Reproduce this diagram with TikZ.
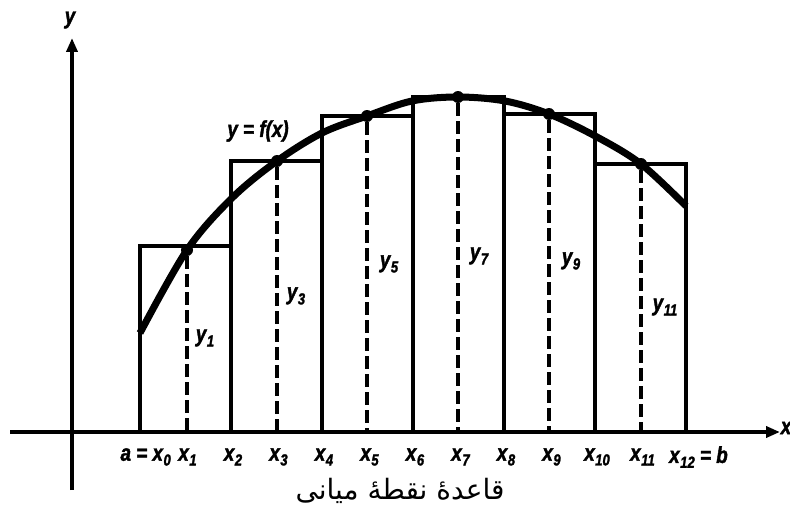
\documentclass[tikz,border=0pt]{standalone}
\usepackage{fontspec}
\setmainfont{Liberation Sans}
\newfontfamily\lblfont[FakeStretch=0.82, FakeBold=1.6]{Liberation Sans Bold Italic}
\newfontfamily\arabicfont[Script=Arabic]{DejaVu Sans}
\TeXXeTstate=1
\usetikzlibrary{arrows.meta}
\newcommand\lsub[2]{#1\kern0.5pt\raisebox{-0.4ex}{\fontsize{16}{16}\selectfont #2}}
\begin{document}
\begin{tikzpicture}[x=1pt,y=-1pt,
  axis/.style={line width=4.2pt},
  rectline/.style={line width=3.6pt},
  fcurve/.style={line width=7pt, line join=round},
  dashline/.style={line width=3.4pt, dash pattern=on 13pt off 5pt},
  dot/.style={circle, fill, inner sep=0pt, minimum size=12pt},
  lbl/.style={font=\lblfont\fontsize{23}{23}\selectfont, inner sep=0pt}]
\useasboundingbox (0,0) rectangle (790,519);
% axes
\coordinate (yb) at (72,490);
\coordinate (yt) at (72,38);
\coordinate (xl) at (10,432);
\coordinate (xr) at (780,432);
\draw[axis,-{Triangle[length=14pt,width=11pt]}] (yb) -- (yt);
\draw[axis,-{Triangle[length=14pt,width=11pt]}] (xl) -- (xr);
\node[lbl] (ylab) at (70,20) {y};
\node[lbl] (xlab) at (786,428) {x};
% rectangles
\foreach \i/\t in {0/246,1/161,2/116,3/97,4/114,5/164}{
  \draw[rectline] ({140+91*\i},432) rectangle ({231+91*\i},\t);
}
% curve
\draw[fcurve] plot[smooth, tension=0.55] coordinates {(140,333) (187,250) (232,198) (277,161) (322,133) (367,116) (412,101) (458,97) (505,101) (549,114) (597,137) (641,164) (686,206)};
% midpoints
\foreach \n/\x/\y in {1/187/250,3/277/161,5/367/116,7/458/97,9/549/114,11/641/164}{
  \node[dot] (m\n) at (\x,\y) {};
  \coordinate (b\n) at (\x,432);
  \draw[dashline] (m\n) -- (b\n);
}
% y labels
\node[lbl] (ly1) at (205,338) {\lsub{y}{1}};
\node[lbl] (ly3) at (296,296) {\lsub{y}{3}};
\node[lbl] (ly5) at (389,264) {\lsub{y}{5}};
\node[lbl] (ly7) at (479,256) {\lsub{y}{7}};
\node[lbl] (ly9) at (571,261) {\lsub{y}{9}};
\node[lbl] (ly11) at (665,307) {\lsub{y}{11}};
\node[lbl] (lf) at (258,131) {y = f(x)};
% x labels
\node[lbl, anchor=east] (lx0) at (171,457) {a = \lsub{x}{0}};
\foreach \k in {1,...,11}{
  \node[lbl] (lx\k) at ({140+45.5*\k+2},457) {\lsub{x}{\k}};
}
\node[lbl, anchor=west] (lx12) at (669,457) {\lsub{x}{12} = b};
% caption
\node[font=\arabicfont\fontsize{28}{28}\selectfont, inner sep=0pt] (cap) at (400,491) {\beginR قاعدهٔ نقطهٔ میانی\endR};
\end{tikzpicture}
\end{document}
